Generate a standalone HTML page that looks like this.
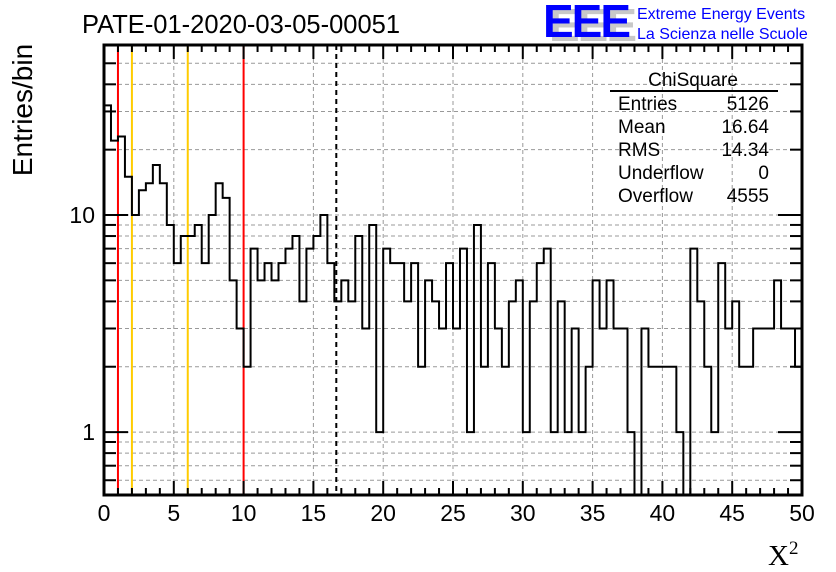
<!DOCTYPE html>
<html><head><meta charset="utf-8"><style>
html,body{margin:0;padding:0;background:#fff;}
svg{display:block;font-family:"Liberation Sans",sans-serif;}
</style></head><body>
<svg id="c" width="836" height="572" viewBox="0 0 836 572">
<defs><clipPath id="pc"><rect x="104" y="45" width="698" height="450"/></clipPath></defs>
<rect width="836" height="572" fill="#fff"/>
<g id="grid"></g>
<g id="vlines"></g>
<g id="hist" clip-path="url(#pc)"></g>
<g id="axes"></g>
<text x="82" y="33" font-size="25.5">PATE-01-2020-03-05-00051</text>
<g>
<text x="549" y="41" font-size="46" font-weight="bold" fill="#c8c8c8" letter-spacing="-2">EEE</text>
<text x="543" y="37" font-size="46" font-weight="bold" fill="#0000ff" letter-spacing="-2">EEE</text>
<text x="637" y="19" font-size="16" fill="#0000ff">Extreme Energy Events</text>
<text x="637" y="39" font-size="16" fill="#0000ff">La Scienza nelle Scuole</text>
</g>
<g font-size="19">
<text x="693" y="86" text-anchor="middle">ChiSquare</text>
<line x1="610" y1="91" x2="778" y2="91" stroke="#000" stroke-width="2"/>
<text x="618" y="110">Entries</text><text x="769" y="110" text-anchor="end">5126</text>
<text x="618" y="133">Mean</text><text x="769" y="133" text-anchor="end">16.64</text>
<text x="618" y="156">RMS</text><text x="769" y="156" text-anchor="end">14.34</text>
<text x="618" y="179">Underflow</text><text x="769" y="179" text-anchor="end">0</text>
<text x="618" y="202">Overflow</text><text x="769" y="202" text-anchor="end">4555</text>
</g>
<text transform="translate(32,110) rotate(-90)" text-anchor="middle" font-size="28">Entries/bin</text>
<text x="768" y="565" font-size="29" font-family="Liberation Serif,serif">X<tspan font-size="19" dy="-11">2</tspan></text>
</svg>
<script>
const counts=[32,22,23,15,10,13,14,17,14,9,6,8,8,9,6,10,14,12,5,3,2,7,5,6,5,6,7,8,4,7,8,10,6,4,5,4,8,3,9,1,7,6,6,4,6,2,5,4,3,6,3,7,1,9,2,6,3,2,4,5,1,4,6,7,1,4,1,3,1,2,5,3,5,3,3,1,0,3,2,2,2,2,1,0,7,4,2,1,6,3,4,2,2,3,3,3,5,3,3,2];
const xTicks=[0,5,10,15,20,25,30,35,40,45,50];
const yTickLabels=[1,10];
const markerX=[1,2,6,10];
const markerColors=["#ff0000","#ffcc00","#ffcc00","#ff0000"];
const meanX=16.64;
const binWidth=0.5, xMin=0, xMax=50;
const L=104,R=802,T=45,B=495;
const yLo=0.513,yHi=60.7;
const NS="http://www.w3.org/2000/svg";
function sx(v){return L+(v-xMin)/(xMax-xMin)*(R-L);}
function sy(v){if(v<=0)return B+5;return B-(Math.log10(v)-Math.log10(yLo))/(Math.log10(yHi)-Math.log10(yLo))*(B-T);}
function mk(tag,attrs,parent){const e=document.createElementNS(NS,tag);for(const k in attrs)e.setAttribute(k,attrs[k]);parent.appendChild(e);return e;}
const grid=document.getElementById('grid'),vl=document.getElementById('vlines'),hist=document.getElementById('hist'),ax=document.getElementById('axes');
const yGridVals=[0.6,0.7,0.8,0.9,1,2,3,4,5,6,7,8,9,10,20,30,40,50];
yGridVals.forEach(v=>{const y=sy(v);const g=mk('line',{x1:L,x2:R,y1:y,y2:y,stroke:'#999','stroke-dasharray':'4,3','stroke-width':1},grid);

});
xTicks.forEach(v=>{const x=sx(v);const g=mk('line',{x1:x,x2:x,y1:T,y2:B,stroke:'#999','stroke-dasharray':'4,3','stroke-width':1},grid);

});
markerX.forEach((v,i)=>{const x=sx(v);const l=mk('line',{x1:x,x2:x,y1:T,y2:B,stroke:markerColors[i],'stroke-width':2},vl);

});
const ml=mk('line',{x1:sx(meanX),x2:sx(meanX),y1:T,y2:B,stroke:'#000','stroke-width':2,'stroke-dasharray':'5,4'},vl);


let d='M'+sx(0)+','+sy(counts[0]);
counts.forEach((c,i)=>{const x0=sx(i*binWidth),x1=sx((i+1)*binWidth),y=sy(c);d+=' L'+x0+','+y+' L'+x1+','+y;if(i<counts.length-1)d+=' L'+x1+','+sy(counts[i+1]);});
d+=' L'+sx(counts.length*binWidth)+','+B;
const hp=mk('path',{d:d,fill:'none',stroke:'#000','stroke-width':2},hist);


const fr=mk('rect',{x:L,y:T,width:R-L,height:B-T,fill:'none',stroke:'#000','stroke-width':3},ax);


for(let v=0;v<=50;v+=1){const x=sx(v);const major=v%5===0;const len=major?14:7;
mk('line',{x1:x,x2:x,y1:B,y2:B-len,stroke:'#000','stroke-width':2},ax);
mk('line',{x1:x,x2:x,y1:T,y2:T+len,stroke:'#000','stroke-width':2},ax);}
xTicks.forEach(v=>{const t=mk('text',{x:sx(v),y:521,'text-anchor':'middle','font-size':23},ax);t.textContent=v;

});
const minorY=[0.6,0.7,0.8,0.9,2,3,4,5,6,7,8,9,20,30,40,50];
minorY.forEach(v=>{const y=sy(v);mk('line',{x1:L,x2:L+12,y1:y,y2:y,stroke:'#000','stroke-width':2},ax);mk('line',{x1:R,x2:R-12,y1:y,y2:y,stroke:'#000','stroke-width':2},ax);});
yTickLabels.forEach(v=>{const y=sy(v);mk('line',{x1:L,x2:L+24,y1:y,y2:y,stroke:'#000','stroke-width':2},ax);mk('line',{x1:R,x2:R-24,y1:y,y2:y,stroke:'#000','stroke-width':2},ax);
const t=mk('text',{x:95,y:y+8,'text-anchor':'end','font-size':23},ax);t.textContent=v;

});
</script>
</body></html>
